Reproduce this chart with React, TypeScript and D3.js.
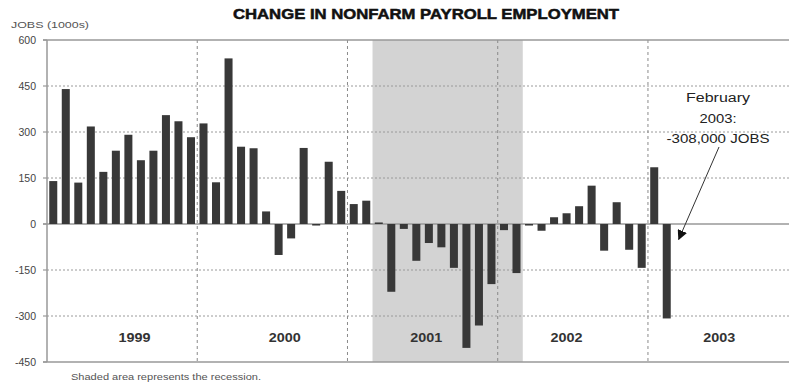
import React from "react";
import * as d3 from "d3";

const years = ["1999", "2000", "2001", "2002", "2003"];
const payroll1999 = [140, 440, 135, 318, 170, 239, 291, 208, 239, 355, 335, 283];
const payroll2000 = [328, 136, 540, 252, 247, 41, -101, -47, 248, -5, 203, 108];
const payroll2001 = [65, 76, 5, -221, -16, -120, -62, -76, -143, -404, -331, -196];
const payroll2002 = [-20, -160, -5, -22, 22, 35, 58, 125, -87, 71, -84, -143];
const payroll2003 = [185, -308];
const yTicks = [600, 450, 300, 150, 0, -150, -300, -450];
const recessionFirstMonth = 26; // Mar 2001
const recessionLastMonth = 37; // Feb 2002
const annotationLines = ["February", "2003:", "-308,000 JOBS"];

const values = [...payroll1999, ...payroll2000, ...payroll2001, ...payroll2002, ...payroll2003];

const W = 789;
const H = 385;
const left = 47;
const step = 12.52;
const top = 40;
const bottom = 362;
const totalMonths = 60;

export default function App() {
  const x = d3
    .scaleBand<number>()
    .domain(d3.range(totalMonths))
    .range([left, left + step * totalMonths])
    .paddingInner(0.36)
    .paddingOuter(0.18);
  const y = d3.scaleLinear().domain([-450, 600]).range([bottom, top]);
  const bandStart = (i: number) => left + i * step;
  const yearLabelMonth = [7, 19, 30.3, 41.5, 53.7];
  const annotationWidths = [64, 37, 103];
  const font = "'Liberation Sans', Arial, sans-serif";
  const feb2003 = values.length - 1;

  return (
    <svg
      width={W}
      height={H}
      style={{ position: "absolute", left: 0, top: 0, background: "#fff" }}
      fontFamily={font}
    >
      <defs>
        <marker id="ah" viewBox="0 0 10 10" refX="9" refY="5" markerWidth="10" markerHeight="10" markerUnits="userSpaceOnUse" orient="auto">
          <path d="M0,0 L10,5 L0,10 z" fill="#111" />
        </marker>
      </defs>
      <rect
        x={bandStart(recessionFirstMonth)}
        y={top}
        width={bandStart(recessionLastMonth + 1) - bandStart(recessionFirstMonth)}
        height={bottom - top}
        fill="#d3d3d3"
      />
      {yTicks
        .filter((t) => t !== 0 && t !== 600 && t !== -450)
        .map((t) => (
          <line key={t} x1={left} x2={W} y1={y(t)} y2={y(t)} stroke="#9a9a9a" strokeWidth={1} strokeDasharray="2,2" />
        ))}
      {[1, 2, 3, 4].map((k) => (
        <line
          key={k}
          x1={bandStart(k * 12)}
          x2={bandStart(k * 12)}
          y1={top}
          y2={bottom}
          stroke="#8a8a8a"
          strokeWidth={1}
          strokeDasharray="3,3"
        />
      ))}
      <line x1={left - 4} x2={W} y1={top} y2={top} stroke="#999" strokeWidth={1.5} />
      <line x1={left - 4} x2={W} y1={bottom} y2={bottom} stroke="#999" strokeWidth={1.5} />
      <line x1={left} x2={left} y1={top} y2={bottom} stroke="#999" strokeWidth={1.5} />
      <line x1={left - 4} x2={W} y1={y(0)} y2={y(0)} stroke="#999" strokeWidth={1.5} />
      {yTicks.map((t) => (
        <g key={t}>
          <line x1={left - 4} x2={left} y1={y(t)} y2={y(t)} stroke="#999" strokeWidth={1.2} />
          <text x={36} y={y(t)} dy="0.35em" textAnchor="end" fontSize={10.5} fill="#444">
            {t}
          </text>
        </g>
      ))}
      {values.map((v, i) => (
        <rect
          key={i}
          x={x(i)}
          width={x.bandwidth()}
          y={y(Math.max(0, v))}
          height={Math.abs(y(v) - y(0))}
          fill="#383838"
        />
      ))}
      {years.map((yr, i) => (
        <text
          key={yr}
          x={bandStart(yearLabelMonth[i])}
          y={y(-370)}
          dy="0.35em"
          textAnchor="middle"
          fontSize={12}
          fontWeight="bold"
          fill="#333"
          textLength={32}
          lengthAdjust="spacingAndGlyphs"
        >
          {yr}
        </text>
      ))}
      <text
        x={426}
        y={19}
        textAnchor="middle"
        fontSize={14}
        fontWeight="bold"
        fill="#111"
        stroke="#111"
        strokeWidth={0.5}
        textLength={386}
        lengthAdjust="spacingAndGlyphs"
      >
        CHANGE IN NONFARM PAYROLL EMPLOYMENT
      </text>
      <text x={11} y={28} fontSize={9} fill="#555" textLength={78} lengthAdjust="spacingAndGlyphs">
        JOBS (1000s)
      </text>
      {annotationLines.map((s, i) => (
        <text
          key={s}
          x={718}
          y={98 + i * 20.5}
          dy="0.35em"
          textAnchor="middle"
          fontSize={12.5}
          fill="#222"
          textLength={annotationWidths[i]}
          lengthAdjust="spacingAndGlyphs"
        >
          {s}
        </text>
      ))}
      <line
        x1={719}
        y1={147}
        x2={x(feb2003)! + x.bandwidth() + 8}
        y2={y(-50)}
        stroke="#333"
        strokeWidth={1}
        markerEnd="url(#ah)"
      />
      <text x={71} y={380} fontSize={9} fill="#555" textLength={190} lengthAdjust="spacingAndGlyphs">
        Shaded area represents the recession.
      </text>
    </svg>
  );
}
